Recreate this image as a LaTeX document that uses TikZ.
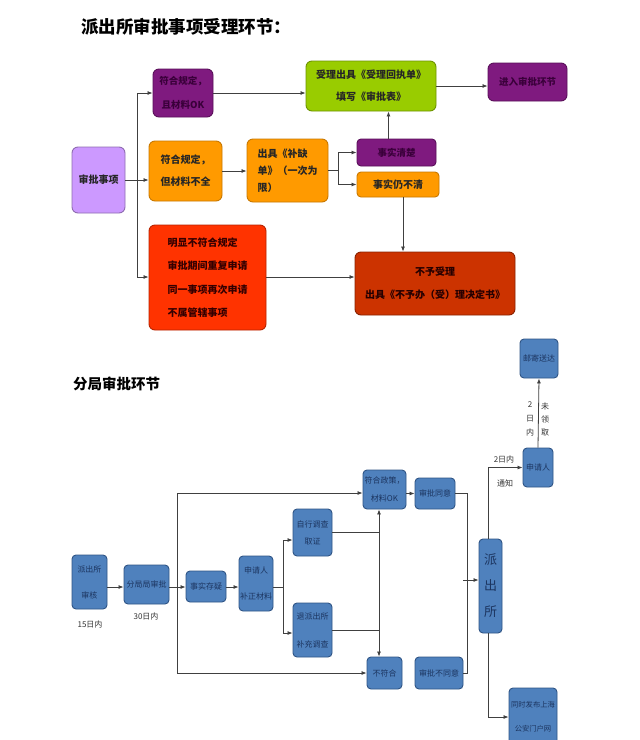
\documentclass[tikz,border=0pt]{standalone}
\usepackage{fontspec}
\setmainfont{Noto Sans CJK SC}
\usetikzlibrary{arrows.meta}
\definecolor{lav}{HTML}{CC99FF}
\definecolor{lavd}{HTML}{8E6CB0}
\definecolor{pur}{HTML}{7F1A7F}
\definecolor{purd}{HTML}{5A105A}
\definecolor{purt}{HTML}{3A003A}
\definecolor{org}{HTML}{FF9A00}
\definecolor{orgd}{HTML}{C87800}
\definecolor{grn}{HTML}{99CC00}
\definecolor{grnd}{HTML}{6E9400}
\definecolor{redb}{HTML}{FF3300}
\definecolor{redd}{HTML}{B82400}
\definecolor{brn}{HTML}{CC3300}
\definecolor{brnd}{HTML}{8A2200}
\definecolor{blu}{HTML}{4F81BD}
\definecolor{blud}{HTML}{2F5485}
\definecolor{blut}{HTML}{1C3560}
\definecolor{ln}{HTML}{404040}
\begin{document}
\begin{tikzpicture}[x=1pt,y=-1pt,
  tb/.style={draw, rounded corners=6pt, line width=0.9pt, inner sep=1pt, align=center,
    text=black!85, font=\fontsize{10}{22}\selectfont\bfseries},
  bb/.style={draw=blud, fill=blu, rounded corners=4pt, line width=0.9pt, inner sep=0.5pt, align=center,
    text=blut, font=\fontsize{8}{13}\selectfont},
  lab/.style={inner sep=0pt, font=\fontsize{8}{10}\selectfont, text=black!80},
  cn/.style={draw=ln, line width=0.8pt},
  arr/.style={cn, -{Latex[length=5pt,width=4pt]}}
]
\useasboundingbox (0,0) rectangle (640,740);
\fill[white] (0,0) rectangle (640,740);

% ---------- titles ----------
\node[anchor=west, inner sep=0pt, font=\fontsize{17.5}{20}\selectfont\bfseries] (t1) at (81,27) {派出所审批事项受理环节：};
\node[anchor=west, inner sep=0pt, font=\fontsize{14.5}{18}\selectfont\bfseries] (t2) at (73,384) {分局审批环节};

% ---------- top section ----------
\node[tb, fill=lav, draw=lavd, minimum width=53, minimum height=66] (shen) at (98.5,180) {审批事项};
\node[tb, fill=pur, draw=purd, text=purt, minimum width=60, minimum height=48, font=\fontsize{9.5}{24}\selectfont\bfseries] (p1) at (183,93) {符合规定，\\且材料OK};
\node[tb, fill=org, draw=orgd, minimum width=73, minimum height=60] (o1) at (185.5,171) {符合规定，\\但材料不全};
\node[tb, fill=redb, draw=redd, text=black!80!red, align=left, minimum width=117, minimum height=105, font=\fontsize{10}{23.5}\selectfont\bfseries] (red) at (207.5,277.5) {明显不符合规定\\审批期间重复申请\\同一事项再次申请\\不属管辖事项};
\node[tb, fill=org, draw=orgd, align=left, minimum width=81, minimum height=63, font=\fontsize{10}{17}\selectfont\bfseries] (o2) at (287.5,170.5) {出具《补缺\\单》（一次为\\限）};
\node[tb, fill=grn, draw=grnd, minimum width=130, minimum height=50] (grn) at (371,86) {受理出具《受理回执单》\\填写《审批表》};
\node[tb, fill=pur, draw=purd, text=purt, minimum width=79, minimum height=38, font=\fontsize{9.5}{20}\selectfont\bfseries] (p2) at (527.5,82) {进入审批环节};
\node[tb, fill=pur, draw=purd, text=purt, rounded corners=4pt, minimum width=79, minimum height=27, font=\fontsize{9.5}{20}\selectfont\bfseries] (p3) at (396.5,152.5) {事实清楚};
\node[tb, fill=org, draw=orgd, rounded corners=4pt, minimum width=82, minimum height=25] (o3) at (398,184.5) {事实仍不清};
\node[tb, fill=brn, draw=brnd, text=black!85!red, minimum width=160, minimum height=63, font=\fontsize{10}{23}\selectfont\bfseries] (brn) at (435,283.5) {不予受理\\出具《不予办（受）理决定书》};

\coordinate (ta) at (137,93);
\coordinate (tb) at (137,277);
\draw[cn] (ta) -- (tb);
\draw[arr] (ta) -- (p1.west);
\draw[arr] (shen.east) -- (shen.east -| o1.west);
\draw[arr] (tb) -- (tb -| red.west);
\draw[arr] (tb -| red.east) -- (tb -| brn.west);
\draw[arr] (p1.east) -- (p1.east -| grn.west);
\draw[arr] (grn.east) -- (grn.east -| p2.west);
\draw[arr] (o1.east) -- (o1.east -| o2.west);
\coordinate (bj) at (338,170.5);
\draw[cn] (o2.east) -- (bj);
\draw[cn] (bj |- p3.west) -- (bj |- o3.west);
\draw[arr] (bj |- p3.west) -- (p3.west);
\draw[arr] (bj |- o3.west) -- (o3.west);
\draw[arr] ([xshift=-8]p3.north) -- ([xshift=-8]p3.north |- grn.south);
\draw[arr] ([xshift=5]o3.south) -- ([xshift=5]o3.south |- brn.north);

% ---------- bottom section ----------
\node[bb, minimum width=35, minimum height=54, font=\fontsize{8}{26}\selectfont] (b1) at (89.5,582) {派出所\\审核};
\node[bb, minimum width=45, minimum height=39] (b2) at (146.5,584.5) {分局局审批};
\node[bb, minimum width=40, minimum height=31] (b3) at (206,586.5) {事实存疑};
\node[bb, minimum width=34, minimum height=55, font=\fontsize{8}{26}\selectfont] (b4) at (256,583.5) {申请人\\补正材料};
\node[bb, minimum width=39, minimum height=47, font=\fontsize{8}{17}\selectfont] (b5) at (312.5,532.5) {自行调查\\取证};
\node[bb, minimum width=39, minimum height=54, font=\fontsize{8}{28}\selectfont] (b6) at (312.5,630) {退派出所\\补充调查};
\node[bb, minimum width=43, minimum height=39, font=\fontsize{8}{18}\selectfont] (b7) at (384.5,489.5) {符合政策，\\材料OK};
\node[bb, minimum width=40, minimum height=31] (b8) at (435,493.5) {审批同意};
\node[bb, minimum width=35, minimum height=32] (b9) at (384.5,673) {不符合};
\node[bb, minimum width=48, minimum height=32] (b10) at (439,673) {审批不同意};
\node[bb, minimum width=23, minimum height=94, font=\fontsize{13}{26}\selectfont] (b11) at (490.5,586) {派\\出\\所};
\node[bb, minimum width=30, minimum height=39] (b12) at (538,467.5) {申请人};
\node[bb, minimum width=38, minimum height=39] (b13) at (539,358.5) {邮寄送达};
\node[bb, minimum width=48, minimum height=58, font=\fontsize{7.3}{24}\selectfont] (b14) at (533,717) {同时发布上海\\公安门户网};

\node[lab] (l15) at (90,624) {15日内};
\node[lab] (l30) at (146,616) {30日内};
\node[lab] (l2a) at (504,459) {2日内};
\node[lab] (ltz) at (505,483) {通知};
\node[lab, align=center, font=\fontsize{8}{14}\selectfont] (l2b) at (530,419) {2\\日\\内};
\node[lab, align=center, font=\fontsize{8}{13}\selectfont] (lwl) at (545,419) {未\\领\\取};

\coordinate (m) at (0,587);
\coordinate (vt) at (177,493);
\coordinate (vb) at (177,673);
\draw[arr] (b1.east |- m) -- (b2.west |- m);
\draw[cn] (b2.east |- m) -- (vt |- m);
\draw[cn] (vt) -- (vb);
\draw[arr] (vt) -- (vt -| b7.west);
\draw[arr] (vb) -- (b9.west);
\draw[arr] (vt |- m) -- (b3.west |- m);
\draw[arr] (b3.east |- m) -- (b4.west |- m);
\coordinate (ja) at (283,540);
\coordinate (jb) at (283,633);
\draw[cn] (b4.east |- m) -- (ja |- m);
\draw[cn] (ja) -- (jb);
\draw[arr] (ja) -- (ja -| b5.west);
\draw[arr] (jb) -- (jb -| b6.west);
\coordinate (vx) at (379,600);
\draw[cn] (b5.east) -- (b5.east -| vx);
\draw[cn] (b6.east) -- (b6.east -| vx);
\draw[cn, {Latex[length=5pt,width=4pt]}-{Latex[length=5pt,width=4pt]}] (vx |- b7.south) -- (vx |- b9.north);
\draw[arr] (b7.east |- b8.west) -- (b8.west);
\coordinate (rt) at (467,493.5);
\draw[cn] (b8.east) -- (rt) |- (b10.east);
\coordinate (as) at (463,580);
\draw[arr] (as) -- (as -| b11.west);
\coordinate (u) at (488,467.5);
\draw[arr] (b11.north -| u) -- (u) -- (b12.west);
\draw[arr] (b11.south -| u) |- (b14.west);
\draw[arr] (b12.north) -- (b13.south);
\end{tikzpicture}
\end{document}
